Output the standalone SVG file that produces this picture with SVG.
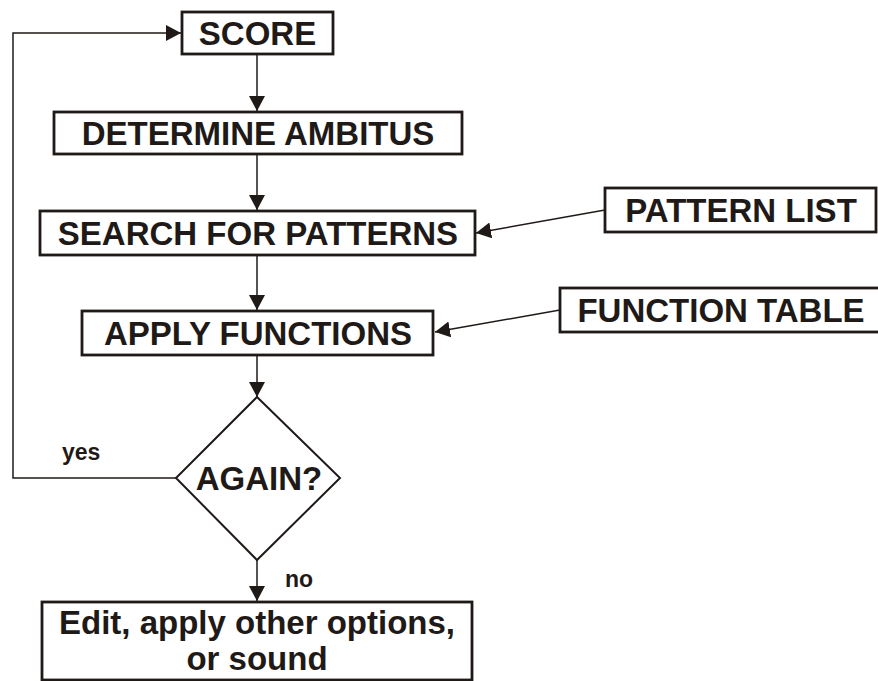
<svg xmlns="http://www.w3.org/2000/svg" width="878" height="681" viewBox="0 0 878 681">
<defs>
<style>
.box{fill:#fff;stroke:#1f1a17;stroke-width:2.8}
.lbl{font-family:"Liberation Sans",Arial,sans-serif;font-weight:bold;font-size:33px;fill:#1f1a17;text-anchor:middle}
.small{font-family:"Liberation Sans",Arial,sans-serif;font-weight:bold;font-size:23px;fill:#1f1a17}
.con{fill:none;stroke:#1f1a17;stroke-width:1.5}
</style>
<marker id="arr" markerUnits="userSpaceOnUse" markerWidth="16" markerHeight="16" refX="15" refY="8" orient="auto">
<path d="M0,0 L15,8 L0,16 z" fill="#1f1a17"/>
</marker>
</defs>
<rect width="878" height="681" fill="#fff"/>
<g id="connectors">
<polyline class="con" points="176,478 13,478 13,33 181,33" marker-end="url(#arr)"/>
<line class="con" x1="257" y1="54" x2="257" y2="111" marker-end="url(#arr)"/>
<line class="con" x1="257" y1="154" x2="257" y2="210" marker-end="url(#arr)"/>
<line class="con" x1="257" y1="255" x2="257" y2="310" marker-end="url(#arr)"/>
<line class="con" x1="257" y1="355" x2="257" y2="397" marker-end="url(#arr)"/>
<line class="con" x1="257" y1="560" x2="257" y2="601" marker-end="url(#arr)"/>
<line class="con" x1="605" y1="210" x2="476" y2="233" marker-end="url(#arr)"/>
<line class="con" x1="560" y1="310" x2="435" y2="332" marker-end="url(#arr)"/>
<text class="small" x="62" y="460">yes</text>
<text class="small" x="285" y="587">no</text>
</g>
<g id="score">
<rect class="box" x="182" y="12" width="151" height="42"/>
<text class="lbl" x="257.5" y="44.5">SCORE</text>
</g>
<g id="determine">
<rect class="box" x="54" y="112" width="408" height="42"/>
<text class="lbl" x="258" y="144.5">DETERMINE AMBITUS</text>
</g>
<g id="search">
<rect class="box" x="40" y="211" width="435" height="44"/>
<text class="lbl" x="258" y="245">SEARCH FOR PATTERNS</text>
</g>
<g id="apply">
<rect class="box" x="82" y="311" width="351" height="44"/>
<text class="lbl" x="258" y="345">APPLY FUNCTIONS</text>
</g>
<g id="patternlist">
<rect class="box" x="605" y="188" width="271" height="44"/>
<text class="lbl" x="741" y="222">PATTERN LIST</text>
</g>
<g id="functiontable">
<rect class="box" x="560" y="288" width="330" height="44"/>
<text class="lbl" x="721" y="322">FUNCTION TABLE</text>
</g>
<g id="again">
<polygon class="box" points="257,397 340,478 257,560 176,478" style="stroke-width:2"/>
<text class="lbl" x="259" y="490">AGAIN?</text>
</g>
<g id="edit">
<rect class="box" x="42" y="602" width="430" height="78"/>
<text class="lbl" x="257" y="634">Edit, apply other options,</text>
<text class="lbl" x="257" y="670">or sound</text>
</g>
</svg>
